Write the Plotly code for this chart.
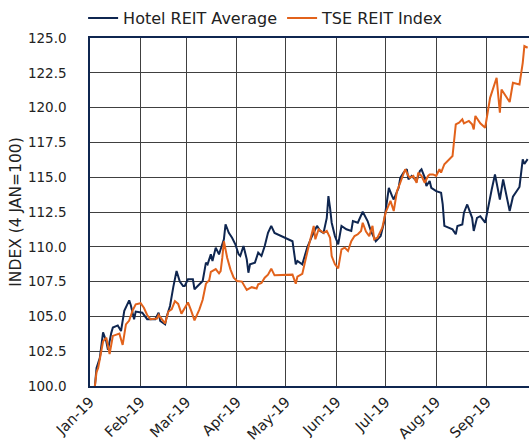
import plotly.graph_objects as go

# Hotel REIT Average (index, 4 Jan 2019 = 100)
hotel_dates = [
    "2019-01-04", "2019-01-05", "2019-01-07", "2019-01-09", "2019-01-11", "2019-01-12",
    "2019-01-14", "2019-01-15", "2019-01-18", "2019-01-20", "2019-01-22", "2019-01-25",
    "2019-01-26", "2019-01-28", "2019-01-29", "2019-02-02", "2019-02-05", "2019-02-10",
    "2019-02-12", "2019-02-13", "2019-02-16", "2019-02-17", "2019-02-19", "2019-02-20",
    "2019-02-21", "2019-02-23", "2019-02-25", "2019-02-27", "2019-02-28", "2019-03-02",
    "2019-03-05", "2019-03-06", "2019-03-11", "2019-03-13", "2019-03-14", "2019-03-16",
    "2019-03-17", "2019-03-19", "2019-03-21", "2019-03-22", "2019-03-24", "2019-03-25",
    "2019-03-27", "2019-03-29", "2019-03-31", "2019-04-02", "2019-04-03", "2019-04-05",
    "2019-04-07", "2019-04-08", "2019-04-09", "2019-04-12", "2019-04-14", "2019-04-16",
    "2019-04-18", "2019-04-20", "2019-04-22", "2019-04-24", "2019-05-05", "2019-05-07",
    "2019-05-08", "2019-05-11", "2019-05-14", "2019-05-17", "2019-05-20", "2019-05-22",
    "2019-05-24", "2019-05-26", "2019-05-27", "2019-05-28", "2019-05-29", "2019-05-31",
    "2019-06-02", "2019-06-04", "2019-06-07", "2019-06-10", "2019-06-11", "2019-06-14",
    "2019-06-17", "2019-06-20", "2019-06-22", "2019-06-25", "2019-06-28", "2019-06-30",
    "2019-07-03", "2019-07-05", "2019-07-06", "2019-07-09", "2019-07-10", "2019-07-12",
    "2019-07-14", "2019-07-15", "2019-07-17", "2019-07-20", "2019-07-22", "2019-07-23",
    "2019-07-25", "2019-07-26", "2019-07-28", "2019-07-29", "2019-08-01", "2019-08-04",
    "2019-08-05", "2019-08-06", "2019-08-09", "2019-08-11", "2019-08-13", "2019-08-14",
    "2019-08-17", "2019-08-18", "2019-08-20", "2019-08-23", "2019-08-24", "2019-08-26",
    "2019-08-28", "2019-08-31", "2019-09-04", "2019-09-06", "2019-09-09", "2019-09-11",
    "2019-09-15", "2019-09-17", "2019-09-21", "2019-09-23", "2019-09-24", "2019-09-26",
]
hotel_values = [
    100.0, 101.3, 102.0, 103.85, 103.2, 102.6,
    103.8, 104.2, 104.35, 103.95, 105.4, 106.15,
    105.8, 104.8, 105.35, 105.27, 104.8, 104.8,
    105.27, 104.67, 104.43, 105.0, 105.75, 106.6,
    107.1, 108.26, 107.5, 107.18, 107.18, 107.67,
    107.67, 106.95, 107.54, 108.86, 108.74, 109.46,
    108.98, 109.94, 109.46, 109.82, 110.54, 111.62,
    111.0, 110.65, 110.18, 109.46, 109.34, 110.06,
    109.1, 108.14, 108.74, 108.86, 109.58, 109.34,
    110.06, 111.0, 111.5, 111.0, 110.4, 108.74,
    108.98, 108.74, 109.94, 110.78, 111.5, 111.14,
    111.0, 112.08, 113.64, 112.8, 111.73, 110.77,
    110.18, 111.5, 111.26, 111.14, 111.85, 111.73,
    112.52, 111.85, 111.14, 110.4, 110.77, 111.73,
    114.24, 113.64, 113.4, 114.24, 114.96, 115.33,
    115.57, 114.84, 115.09, 114.73, 115.45, 115.57,
    114.97, 114.37, 114.73, 114.24, 114.0, 113.88,
    113.04, 111.5, 111.37, 111.25, 110.9, 111.5,
    111.6, 112.45, 113.04, 112.08, 111.14, 112.08,
    112.2, 111.73, 114.12, 115.2, 113.4, 114.84,
    112.57, 113.6, 114.3, 116.28, 115.95, 116.3,
]

# TSE REIT Index (index, 4 Jan 2019 = 100)
tse_dates = [
    "2019-01-04", "2019-01-05", "2019-01-06", "2019-01-09", "2019-01-11", "2019-01-13",
    "2019-01-15", "2019-01-17", "2019-01-19", "2019-01-21", "2019-01-23", "2019-01-25",
    "2019-01-27", "2019-01-29", "2019-02-01", "2019-02-03", "2019-02-05", "2019-02-07",
    "2019-02-11", "2019-02-12", "2019-02-15", "2019-02-16", "2019-02-18", "2019-02-20",
    "2019-02-22", "2019-02-24", "2019-02-26", "2019-03-01", "2019-03-02", "2019-03-04",
    "2019-03-06", "2019-03-09", "2019-03-11", "2019-03-13", "2019-03-15", "2019-03-16",
    "2019-03-19", "2019-03-21", "2019-03-22", "2019-03-23", "2019-03-24", "2019-03-26",
    "2019-03-28", "2019-03-30", "2019-04-01", "2019-04-04", "2019-04-07", "2019-04-10",
    "2019-04-13", "2019-04-14", "2019-04-16", "2019-04-18", "2019-04-20", "2019-04-22",
    "2019-04-24", "2019-05-05", "2019-05-07", "2019-05-08", "2019-05-11", "2019-05-15",
    "2019-05-18", "2019-05-19", "2019-05-21", "2019-05-24", "2019-05-26", "2019-05-28",
    "2019-05-29", "2019-05-31", "2019-06-02", "2019-06-04", "2019-06-06", "2019-06-08",
    "2019-06-10", "2019-06-12", "2019-06-14", "2019-06-16", "2019-06-17", "2019-06-19",
    "2019-06-21", "2019-06-23", "2019-06-24", "2019-06-26", "2019-06-29", "2019-07-01",
    "2019-07-04", "2019-07-06", "2019-07-08", "2019-07-10", "2019-07-13", "2019-07-15",
    "2019-07-16", "2019-07-18", "2019-07-20", "2019-07-21", "2019-07-23", "2019-07-25",
    "2019-07-27", "2019-07-28", "2019-07-30", "2019-08-01", "2019-08-03", "2019-08-04",
    "2019-08-06", "2019-08-11", "2019-08-13", "2019-08-15", "2019-08-17", "2019-08-18",
    "2019-08-21", "2019-08-23", "2019-08-24", "2019-08-25", "2019-08-28", "2019-08-31",
    "2019-09-03", "2019-09-07", "2019-09-09", "2019-09-10", "2019-09-15", "2019-09-17",
    "2019-09-21", "2019-09-23", "2019-09-24", "2019-09-26",
]
tse_values = [
    100.0, 101.0, 101.3, 103.2, 103.47, 102.3,
    103.6, 103.7, 103.76, 102.95, 104.43, 104.7,
    105.4, 105.87, 105.95, 105.62, 105.1, 104.8,
    104.85, 105.1, 104.6, 104.5, 105.35, 105.5,
    106.1, 105.9, 105.2, 105.8, 106.0, 105.4,
    104.72, 105.5, 106.2, 107.35, 107.6, 108.2,
    108.4, 108.1, 108.26, 109.2, 110.4, 109.22,
    108.38, 107.78, 107.54, 107.5, 106.9, 107.1,
    107.0, 107.3, 107.4, 107.78, 108.0, 108.43,
    107.95, 108.0, 107.35, 107.85, 108.05, 110.1,
    111.5, 110.54, 111.26, 111.0, 111.14, 110.65,
    109.34, 108.74, 108.45, 109.82, 109.94, 109.7,
    110.4, 110.77, 110.9, 111.14, 111.73, 111.09,
    110.77, 111.5, 110.54, 110.65, 111.37, 112.45,
    113.3, 112.57, 114.0, 114.6, 115.57, 115.09,
    114.96, 115.09, 114.6, 115.33, 115.09, 114.6,
    115.09, 115.2, 115.2, 115.09, 115.57, 115.33,
    115.93, 116.52, 118.8, 118.92, 119.16, 118.87,
    119.04, 118.8, 118.44, 119.4, 118.87, 118.55,
    120.7, 122.14, 119.63, 121.3, 120.4, 121.78,
    121.66, 123.22, 124.42, 124.3,
]

NAVY = "#0f2650"
ORANGE = "#e2621b"
FONT = "DejaVu Sans"

fig = go.Figure()
fig.add_trace(go.Scatter(x=hotel_dates, y=hotel_values, mode="lines", name="Hotel REIT Average",
                         line=dict(color=NAVY, width=2)))
fig.add_trace(go.Scatter(x=tse_dates, y=tse_values, mode="lines", name="TSE REIT Index",
                         line=dict(color=ORANGE, width=2)))

fig.update_layout(
    width=529, height=444,
    margin=dict(l=90, r=0, t=38, b=58, autoexpand=False),
    paper_bgcolor="white", plot_bgcolor="white",
    font=dict(family=FONT, size=13.5, color="#222222"),
    showlegend=True,
    legend=dict(orientation="h", x=0.40, xanchor="center", y=1.008, yanchor="bottom",
                font=dict(size=16), itemwidth=30, bgcolor="rgba(0,0,0,0)"),
    xaxis=dict(
        type="date", range=["2019-01-01", "2019-09-26 20:00"],
        dtick="M1", tick0="2019-01-01", tickformat="%b-%y", tickangle=-45,
        tickfont=dict(size=14.5),
        showgrid=True, gridcolor="#404040", gridwidth=1,
        showline=True, linecolor=NAVY, linewidth=1.5, mirror=True,
        ticks="", zeroline=False, automargin=False,
    ),
    yaxis=dict(
        range=[100, 125], dtick=2.5, tickformat=".1f",
        title=dict(text="INDEX (4 JAN=100)", font=dict(size=15.5), standoff=2),
        showgrid=True, gridcolor="#404040", gridwidth=1,
        showline=True, linecolor=NAVY, linewidth=1.5,
        ticks="", ticklabelstandoff=19, zeroline=False, automargin=False,
    ),
)

# the page body has a default 8px margin; drop it so the figure fills the window
fig.write_html("out.html", config={"displayModeBar": False},
               post_script="document.body.style.margin = '0';")
